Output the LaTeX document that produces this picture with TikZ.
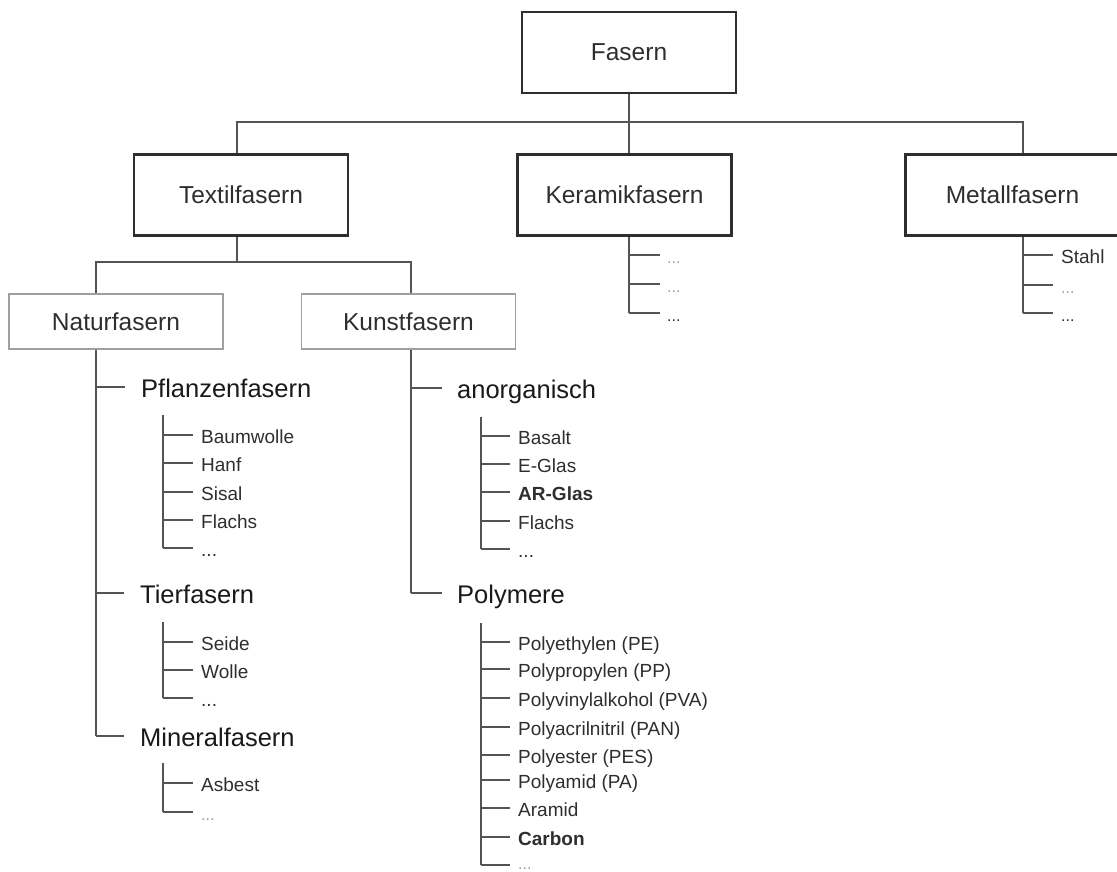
\documentclass[tikz,border=0pt]{standalone}
\usepackage{fontspec}
\setmainfont{Liberation Sans}
\usetikzlibrary{calc}
\definecolor{linie}{gray}{0.33}
\definecolor{schrift}{gray}{0.18}
\definecolor{blass}{gray}{0.62}

\tikzset{
  hauptbox/.style={draw=schrift, line width=2.2pt, minimum width=214pt, minimum height=81pt,
    inner sep=0pt, text=schrift, font=\fontsize{24.5}{28}\selectfont},
  unterbox/.style={draw=gray!75, line width=1.5pt, minimum width=214pt, minimum height=55pt,
    inner sep=0pt, text=schrift, font=\fontsize{24.5}{28}\selectfont},
  gruppe/.style={anchor=west, inner sep=0pt, text height=20pt, text depth=0pt,
    text=black!90, font=\fontsize{25.5}{30}\selectfont},
  blatt/.style={anchor=west, inner sep=0pt, text height=16pt, text depth=0pt,
    text=schrift, font=\fontsize{19}{22}\selectfont},
  leer/.style={blatt, text=blass, font=\fontsize{16}{20}\selectfont},
  ast/.style={draw=linie, line width=1.6pt}
}

\begin{document}
\begin{tikzpicture}[x=1pt,y=-1pt]
  \useasboundingbox (0,0) rectangle (1117,872);
  %KAESTEN
  \node[hauptbox] (fasern) at (629,52.5) {Fasern};
  \node[hauptbox] (textil) at (241,195) {Textilfasern};
  \node[hauptbox] (keramik) at (624.5,195) {Keramikfasern};
  \node[hauptbox] (metall) at (1012.5,195) {Metallfasern};
  \node[unterbox] (natur) at (116,321.5) {Naturfasern};
  \node[unterbox] (kunst) at (408.5,321.5) {Kunstfasern};
  %VERTEILER
  \coordinate (b1) at (629,122);
  \coordinate (b2) at (237,262);
  \coordinate (nast) at (96,262);
  \coordinate (kast) at (411,262);
  \coordinate (mast) at (1023,122);
  \draw[ast] (fasern.south) -- (b1 |- keramik.north);
  \draw[ast] (b2 |- textil.north) |- (b1) -- (mast) -- (mast |- metall.north);
  \draw[ast] (b2 |- textil.south) -- (b2);
  \draw[ast] (nast |- natur.north) -- (nast) -- (kast) -- (kast |- kunst.north);
  %GRUPPEN
  \node[gruppe] (pflanzen) at (141,387) {Pflanzenfasern};
  \node[gruppe] (tier) at (140,593) {Tierfasern};
  \node[gruppe] (mineral) at (140,736) {Mineralfasern};
  \node[gruppe] (anorg) at (457,388) {anorganisch};
  \node[gruppe] (poly) at (457,593) {Polymere};
  \draw[ast] (nast |- natur.south) -- (nast |- mineral.west);
  \draw[ast] (kast |- kunst.south) -- (kast |- poly.west);
  \foreach \n in {pflanzen,tier,mineral}
    \draw[ast] (nast |- \n.west) -- ([xshift=-16pt]\n.west);
  \foreach \n in {anorg,poly}
    \draw[ast] (kast |- \n.west) -- ([xshift=-15pt]\n.west);
  %PFLANZENFASERN
  \coordinate (pfl) at (163,415);
  \node[blatt] (baumwolle) at (201,435) {Baumwolle};
  \node[blatt] (hanf) at (201,463) {Hanf};
  \node[blatt] (sisal) at (201,492) {Sisal};
  \node[blatt] (flachs) at (201,520) {Flachs};
  \node[blatt] (pfdots) at (201,548) {...};
  %TIERFASERN
  \coordinate (tfl) at (163,622);
  \node[blatt] (seide) at (201,642) {Seide};
  \node[blatt] (wolle) at (201,670) {Wolle};
  \node[blatt] (tidots) at (201,698) {...};
  %MINERALFASERN
  \coordinate (mfl) at (163,763);
  \node[blatt] (asbest) at (201,783) {Asbest};
  \node[leer] (midots) at (201,812) {...};
  %ANORGANISCH
  \coordinate (anl) at (481,417);
  \node[blatt] (basalt) at (518,436) {Basalt};
  \node[blatt] (eglas) at (518,464) {E-Glas};
  \node[blatt,font=\fontsize{19}{22}\selectfont\bfseries] (arglas) at (518,492) {AR-Glas};
  \node[blatt] (flachsb) at (518,521) {Flachs};
  \node[blatt] (andots) at (518,549) {...};
  %POLYMERE
  \coordinate (pol) at (481,623);
  \node[blatt] (pe) at (518,642) {Polyethylen (PE)};
  \node[blatt] (pp) at (518,669) {Polypropylen (PP)};
  \node[blatt] (pva) at (518,698) {Polyvinylalkohol (PVA)};
  \node[blatt] (pan) at (518,727) {Polyacrilnitril (PAN)};
  \node[blatt] (pes) at (518,755) {Polyester (PES)};
  \node[blatt] (pa) at (518,780) {Polyamid (PA)};
  \node[blatt] (aramid) at (518,808) {Aramid};
  \node[blatt,font=\fontsize{19}{22}\selectfont\bfseries] (carbon) at (518,837) {Carbon};
  \node[leer,text height=8pt] (podots) at (518,865) {...};
  %KERAMIK und METALL
  \node[leer] (kd1) at (667,255) {...};
  \node[leer] (kd2) at (667,284) {...};
  \node[blatt,font=\fontsize{16}{20}\selectfont] (kd3) at (667,313) {...};
  \node[blatt] (stahl) at (1061,255) {Stahl};
  \node[leer] (md1) at (1061,285) {...};
  \node[blatt,font=\fontsize{16}{20}\selectfont] (md2) at (1061,313) {...};
  %STAEMME und ZWEIGE
  \draw[ast] (pfl) -- (pfl |- pfdots.west);
  \draw[ast] (tfl) -- (tfl |- tidots.west);
  \draw[ast] (mfl) -- (mfl |- midots.west);
  \draw[ast] (anl) -- (anl |- andots.west);
  \draw[ast] (pol) -- (pol |- podots.west);
  \draw[ast] (b1 |- keramik.south) -- (b1 |- kd3.west);
  \draw[ast] (mast |- metall.south) -- (mast |- md2.west);
  \foreach \n in {baumwolle,hanf,sisal,flachs,pfdots}
    \draw[ast] (pfl |- \n.west) -- ([xshift=-8pt]\n.west);
  \foreach \n in {seide,wolle,tidots}
    \draw[ast] (tfl |- \n.west) -- ([xshift=-8pt]\n.west);
  \foreach \n in {asbest,midots}
    \draw[ast] (mfl |- \n.west) -- ([xshift=-8pt]\n.west);
  \foreach \n in {basalt,eglas,arglas,flachsb,andots}
    \draw[ast] (anl |- \n.west) -- ([xshift=-8pt]\n.west);
  \foreach \n in {pe,pp,pva,pan,pes,pa,aramid,carbon,podots}
    \draw[ast] (pol |- \n.west) -- ([xshift=-8pt]\n.west);
  \foreach \n in {kd1,kd2,kd3}
    \draw[ast] (b1 |- \n.west) -- ([xshift=-7pt]\n.west);
  \foreach \n in {stahl,md1,md2}
    \draw[ast] (mast |- \n.west) -- ([xshift=-8pt]\n.west);
\end{tikzpicture}
\end{document}
